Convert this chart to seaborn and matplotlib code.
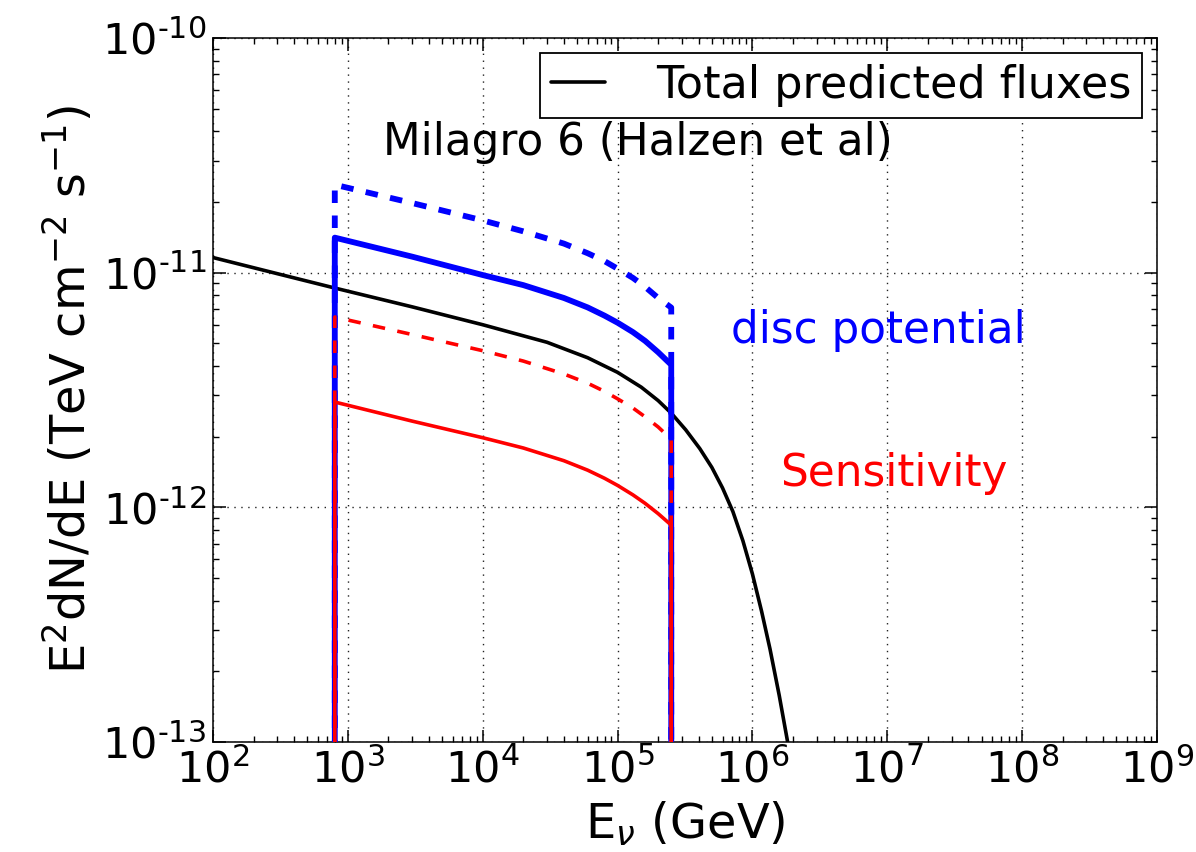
import numpy as np
import pandas as pd
import matplotlib
matplotlib.use("Agg")
import matplotlib.pyplot as plt
import seaborn as sns

# ---- data ----
energy_total = [1e2, 3e2, 8.0e2, 3e3, 1e4, 3e4, 6e4, 1.0e5, 1.5e5, 2.0e5, 2.5e5,
                3.2e5, 4.07e5, 5.0e5, 6.0e5, 7.16e5, 8.5e5, 1.0e6, 1.17e6,
                1.35e6, 1.58e6, 1.83e6, 2.2e6]
flux_total = [1.16e-11, 9.9e-12, 8.6e-12, 7.15e-12, 6.0e-12, 5.05e-12, 4.34e-12,
              3.76e-12, 3.25e-12, 2.85e-12, 2.52e-12, 2.14e-12, 1.78e-12,
              1.48e-12, 1.21e-12, 9.6e-13, 7.2e-13, 5.2e-13, 3.6e-13, 2.49e-13,
              1.58e-13, 9.9e-14, 5.2e-14]

energy_band = [8.0e2, 3e3, 1e4, 2e4, 4e4, 6e4, 8e4, 1e5, 1.3e5, 1.6e5, 2e5, 2.5e5]
disc_pot_solid = [1.41e-11, 1.17e-11, 9.77e-12, 8.85e-12, 7.8e-12, 7.11e-12,
                  6.56e-12, 6.12e-12, 5.58e-12, 5.12e-12, 4.58e-12, 4.05e-12]
disc_pot_dashed = [2.37e-11, 1.98e-11, 1.67e-11, 1.50e-11, 1.33e-11, 1.21e-11,
                   1.12e-11, 1.04e-11, 9.5e-12, 8.7e-12, 7.8e-12, 7.1e-12]
sens_dashed = [6.47e-12, 5.45e-12, 4.65e-12, 4.2e-12, 3.7e-12, 3.38e-12,
               3.12e-12, 2.9e-12, 2.65e-12, 2.43e-12, 2.2e-12, 1.95e-12]
sens_solid = [2.81e-12, 2.33e-12, 1.98e-12, 1.79e-12, 1.58e-12, 1.44e-12,
              1.33e-12, 1.24e-12, 1.13e-12, 1.04e-12, 9.4e-13, 8.4e-13]
floor_flux = 1e-15  # band curves drop below the axis at both ends

xticks = [1e2, 1e3, 1e4, 1e5, 1e6, 1e7, 1e8, 1e9]
xtick_labels = [r"$\mathdefault{10^{2}}$", r"$\mathdefault{10^{3}}$",
                r"$\mathdefault{10^{4}}$", r"$\mathdefault{10^{5}}$",
                r"$\mathdefault{10^{6}}$", r"$\mathdefault{10^{7}}$",
                r"$\mathdefault{10^{8}}$", r"$\mathdefault{10^{9}}$"]
yticks = [1e-13, 1e-12, 1e-11, 1e-10]
ytick_labels = ["10$^{\u2010" + "13}$", "10$^{\u2010" + "12}$",
                "10$^{\u2010" + "11}$", "10$^{\u2010" + "10}$"]

sns.set_theme(style="white")
plt.rcParams.update({
    "font.family": ["DejaVu Sans"],
    "axes.unicode_minus": False,
    "mathtext.fontset": "dejavusans",
    "lines.scale_dashes": False,
    "axes.edgecolor": "black",
    "axes.linewidth": 1.1,
    "text.color": "black",
    "axes.labelcolor": "black",
    "xtick.color": "black",
    "ytick.color": "black",
})

FS = 31.5
TFS = 31
LFS = 34.5


def closed(xs, ys):
    x = [xs[0]] + list(xs) + [xs[-1]]
    y = [floor_flux] + list(ys) + [floor_flux]
    return pd.DataFrame({"E": x, "F": y})


fig = plt.figure(figsize=(11.96, 8.52), dpi=100)
ax = fig.add_axes([213 / 1196, 110 / 852, 944 / 1196, 704 / 852])
ax.set_xscale("log")
ax.set_yscale("log")

df_tot = pd.DataFrame({"E": energy_total, "F": flux_total})
sns.lineplot(data=df_tot, x="E", y="F", ax=ax, color="black", lw=2.6,
             sort=False, estimator=None, zorder=3)

sns.lineplot(data=closed(energy_band, disc_pot_solid), x="E", y="F", ax=ax,
             color="#0000ff", lw=4.2, sort=False, estimator=None, zorder=4)
sns.lineplot(data=closed(energy_band, disc_pot_dashed), x="E", y="F", ax=ax,
             color="#0000ff", lw=4.2, sort=False, estimator=None, zorder=4)
ax.lines[-1].set_linestyle((0, (9, 9)))
sns.lineplot(data=closed(energy_band, sens_dashed), x="E", y="F", ax=ax,
             color="#ff0000", lw=2.6, sort=False, estimator=None, zorder=5)
ax.lines[-1].set_linestyle((0, (9, 9)))
sns.lineplot(data=closed(energy_band, sens_solid), x="E", y="F", ax=ax,
             color="#ff0000", lw=2.6, sort=False, estimator=None, zorder=5)

ax.set_xlim(1e2, 1e9)
ax.set_ylim(1e-13, 1e-10)
ax.set_xticks(xticks)
ax.set_xticklabels(xtick_labels)
ax.set_yticks(yticks)
ax.set_yticklabels(ytick_labels)

ax.grid(True, which="major", color="#222222", linestyle=(0, (1, 4)), lw=1.0)
ax.set_axisbelow(True)

ax.tick_params(which="both", direction="in", top=True, right=True,
               bottom=True, left=True, colors="black")
ax.tick_params(which="major", length=9, width=1.1, labelsize=TFS, pad=5)
ax.tick_params(which="minor", length=4.5, width=1.0)

ax.set_xlabel(r"E$_\nu$ (GeV)", fontsize=LFS, labelpad=6)
ax.set_ylabel(r"E$^2$dN/dE (TeV cm$^{-2}$ s$^{-1}$)", fontsize=LFS, labelpad=4)

ax.text(0.18, 0.851, "Milagro 6 (Halzen et al)", transform=ax.transAxes,
        fontsize=FS, ha="left", va="center", color="black")
ax.text(0.549, 0.584, "disc potential", transform=ax.transAxes,
        fontsize=FS, ha="left", va="center", color="#0000ff")
ax.text(0.601, 0.381, "Sensitivity", transform=ax.transAxes,
        fontsize=FS, ha="left", va="center", color="#ff0000")

leg = ax.legend(handles=[ax.lines[0]], labels=["Total predicted fluxes"],
                loc="upper right", fontsize=32, frameon=True, fancybox=False,
                framealpha=1, edgecolor="black", borderaxespad=0.33,
                handlelength=1.2, handletextpad=1.15, borderpad=0.25)
leg.get_frame().set_linewidth(1.3)
for t in leg.get_texts():
    t.set_color("black")

fig.savefig("out.png", dpi=100)
